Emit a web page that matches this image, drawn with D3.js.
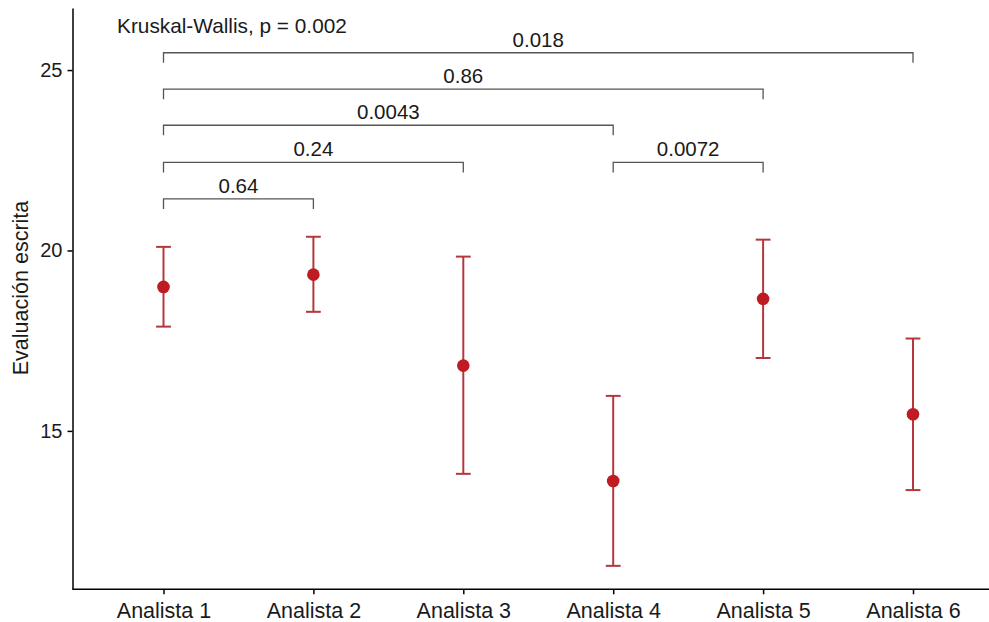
<!DOCTYPE html>
<html>
<head>
<meta charset="utf-8">
<script src="https://cdn.jsdelivr.net/npm/d3@7"></script>
<style>
  body { margin: 0; background: #fff; }
  svg { display: block; font-family: "Liberation Sans", Arial, sans-serif; }
  .axis path, .axis line { stroke: #000; stroke-width: 1.5; }
  .axis text { fill: #1a1a1a; }
</style>
</head>
<body>
<div id="chart"></div>
<script>
// categories and summary values (mean with lower / upper error limits)
const categories = ["Analista 1", "Analista 2", "Analista 3", "Analista 4", "Analista 5", "Analista 6"];
const means = [18.99, 19.33, 16.81, 13.61, 18.66, 15.46];
const lowers = [17.89, 18.30, 13.81, 11.26, 17.02, 13.36];
const uppers = [20.10, 20.38, 19.83, 15.97, 20.30, 17.56];

// pairwise comparisons (group indices, p label, bracket level)
const pairFrom = [0, 0, 0, 0, 0, 3];
const pairTo = [1, 2, 3, 4, 5, 4];
const pairLabels = ["0.64", "0.24", "0.0043", "0.86", "0.018", "0.0072"];
const pairLevels = [21.43, 22.44, 23.47, 24.47, 25.48, 22.44];
const tipLength = 0.28;

const yTicks = [15, 20, 25];
const yDomain = [10.61, 26.72];
const kwLabel = "Kruskal-Wallis, p = 0.002";
const kwLabelY = 26.03;
const yTitle = "Evaluación escrita";

const W = 989, H = 622;
const axisX = 72.5, axisY = 589.3, topY = 8;

const svg = d3.select("#chart").append("svg")
    .attr("width", W)
    .attr("height", H);

const x = d3.scalePoint().domain(categories).range([163.5, 913]);
const y = d3.scaleLinear().domain(yDomain).range([axisY, topY]);

// y axis
const yAxis = d3.axisLeft(y).tickValues(yTicks).tickSize(5).tickPadding(5).tickSizeOuter(0);
const gy = svg.append("g")
    .attr("class", "axis")
    .attr("transform", `translate(${axisX},0)`)
    .call(yAxis);
gy.selectAll("text").style("font-size", "20px");

// x axis (line runs to the right edge of the picture)
const xAxis = d3.axisBottom(x).tickSize(5).tickPadding(8).tickSizeOuter(0);
const gx = svg.append("g")
    .attr("class", "axis")
    .attr("transform", `translate(0,${axisY})`)
    .call(xAxis);
gx.select(".domain").attr("d", `M${axisX},0H${W}`);
gx.selectAll("text").style("font-size", "21.5px");

// y title
svg.append("text")
    .attr("transform", `translate(28,288) rotate(-90)`)
    .attr("text-anchor", "middle")
    .style("font-size", "21.5px")
    .style("fill", "#1a1a1a")
    .text(yTitle);

// error bars
const capW = 7.4;
const bars = svg.append("g").attr("stroke", "#b5373c").attr("stroke-width", 2).attr("fill", "none");
categories.forEach((c, i) => {
    const cx = x(c);
    bars.append("line").attr("x1", cx).attr("x2", cx).attr("y1", y(lowers[i])).attr("y2", y(uppers[i]));
    bars.append("line").attr("x1", cx - capW).attr("x2", cx + capW).attr("y1", y(lowers[i])).attr("y2", y(lowers[i]));
    bars.append("line").attr("x1", cx - capW).attr("x2", cx + capW).attr("y1", y(uppers[i])).attr("y2", y(uppers[i]));
});

// points
svg.append("g").selectAll("circle")
    .data(means)
    .join("circle")
    .attr("cx", (d, i) => x(categories[i]))
    .attr("cy", d => y(d))
    .attr("r", 6.3)
    .attr("fill", "#bf1b22");

// comparison brackets
const br = svg.append("g");
pairLabels.forEach((lab, i) => {
    const x1 = x(categories[pairFrom[i]]), x2 = x(categories[pairTo[i]]);
    const yl = y(pairLevels[i]), yt = y(pairLevels[i] - tipLength);
    br.append("path")
        .attr("d", `M${x1},${yt}V${yl}H${x2}V${yt}`)
        .attr("fill", "none")
        .attr("stroke", "#555")
        .attr("stroke-width", 1.3);
    br.append("text")
        .attr("x", (x1 + x2) / 2)
        .attr("y", yl - 6)
        .attr("text-anchor", "middle")
        .style("font-size", "20.5px")
        .style("fill", "#1a1a1a")
        .text(lab);
});

// Kruskal-Wallis label
svg.append("text")
    .attr("x", x(categories[0]) - 0.31 * x.step())
    .attr("y", y(kwLabelY))
    .style("font-size", "20.8px")
    .style("fill", "#1a1a1a")
    .text(kwLabel);
</script>
</body>
</html>
